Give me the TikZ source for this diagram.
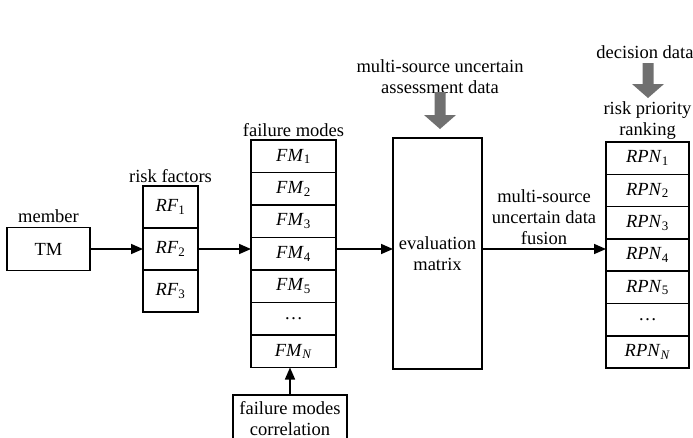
\documentclass[tikz,border=0pt]{standalone}
\usepackage{fontspec}
\setmainfont{Liberation Serif}
\usetikzlibrary{arrows.meta,positioning}

\definecolor{datagray}{RGB}{112,112,112}

\tikzset{
  box/.style={draw, line width=1.6pt, inner sep=0pt, outer sep=0pt, align=center},
  rfcell/.style={box, minimum width=55pt, minimum height=42pt},
  fmcell/.style={box, minimum width=85pt, minimum height=32.5pt},
  rpncell/.style={box, minimum width=83pt, minimum height=32.3pt},
  lbl/.style={inner sep=0pt, align=center},
  link/.style={line width=1.6pt, -{Triangle[length=12pt,width=10pt]}},
}

% gray input arrow, #1 = top point, #2 = length
\newcommand{\grayarrow}[2]{
  \fill [datagray] (#1) ++(-5.5,0) -- ++(11,0) -- ++(0,#2-14) -- ++(10.5,0)
    -- ++(-16,14) -- ++(-16,-14) -- ++(10.5,0) -- cycle;
}

\begin{document}
\begin{tikzpicture}[x=1pt, y=-1pt, font=\fontsize{18.5}{21}\selectfont]
\useasboundingbox (0,0) rectangle (693,437);

% member
\node [box, minimum width=83pt, minimum height=43pt] (tm) at (48.5,249) {TM};
\node [lbl, above=5pt of tm] (member) {member};

% risk factors
\node [rfcell] (rf1) at (170.5,207) {\textit{RF}\textsubscript{1}};
\node [rfcell, below=0pt of rf1] (rf2) {\textit{RF}\textsubscript{2}};
\node [rfcell, below=0pt of rf2] (rf3) {\textit{RF}\textsubscript{3}};
\node [lbl, above=3pt of rf1] (rflabel) {risk factors};

% failure modes
\node [fmcell] (fm1) at (293.5,156.25) {\textit{FM}\textsubscript{1}};
\node [fmcell, below=0pt of fm1] (fm2) {\textit{FM}\textsubscript{2}};
\node [fmcell, below=0pt of fm2] (fm3) {\textit{FM}\textsubscript{3}};
\node [fmcell, below=0pt of fm3] (fm4) {\textit{FM}\textsubscript{4}};
\node [fmcell, below=0pt of fm4] (fm5) {\textit{FM}\textsubscript{5}};
\node [fmcell, below=0pt of fm5] (fmdots) {\dots};
\node [fmcell, below=0pt of fmdots] (fmN) {\textit{FM}\textsubscript{\textit{N}}};
\node [lbl, above=3pt of fm1] (fmlabel) {failure modes};

% correlation
\node [box, minimum width=114pt, minimum height=48pt] (corr) at (290,419)
  {failure modes\\correlation};

% evaluation matrix
\node [box, minimum width=89pt, minimum height=231pt] (eval) at (437.5,253.5)
  {evaluation\\matrix};
\node [lbl] (assess) at (440,77) {multi-source uncertain\\assessment data};
\coordinate (assesstip) at (440,92);

% risk priority ranking
\node [rpncell] (rpn1) at (647.5,158.15) {\textit{RPN}\textsubscript{1}};
\node [rpncell, below=0pt of rpn1] (rpn2) {\textit{RPN}\textsubscript{2}};
\node [rpncell, below=0pt of rpn2] (rpn3) {\textit{RPN}\textsubscript{3}};
\node [rpncell, below=0pt of rpn3] (rpn4) {\textit{RPN}\textsubscript{4}};
\node [rpncell, below=0pt of rpn4] (rpn5) {\textit{RPN}\textsubscript{5}};
\node [rpncell, below=0pt of rpn5] (rpndots) {\dots};
\node [rpncell, below=0pt of rpndots] (rpnN) {\textit{RPN}\textsubscript{\textit{N}}};
\node [lbl, above=2pt of rpn1] (rpnlabel) {risk priority\\ranking};
\node [lbl] (decision) at (645,52) {decision data};
\coordinate (decisiontip) at (648,63);

% connectors
\draw [link] (tm.east) -- (rf2.west);
\draw [link] (rf2.east) -- (rf2.east -| fm4.west);
\draw [link] (rf2.east -| fm4.east) -- (rf2.east -| eval.west);
\draw [link] (rf2.east -| eval.east) -- (rf2.east -| rpn4.west)
  node [lbl, midway, above=4pt] (fusion) {multi-source\\uncertain data\\fusion};
\draw [link] (corr.north) -- (corr.north |- fmN.south);

\grayarrow{assesstip}{37}
\grayarrow{decisiontip}{35}
\end{tikzpicture}
\end{document}
